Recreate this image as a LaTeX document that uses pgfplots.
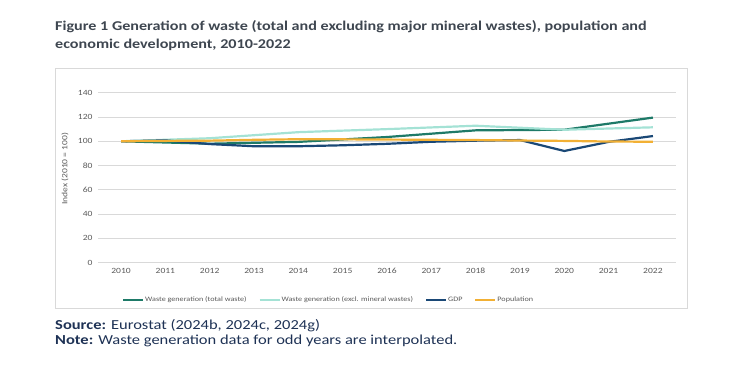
\documentclass[border=0pt]{standalone}
\usepackage{pgfplots}
\pgfplotsset{compat=1.18}
\usepackage{fontspec}
\setmainfont{Carlito}[FakeStretch=1.2]
\definecolor{ctotal}{RGB}{30,122,104}
\definecolor{cexcl}{RGB}{164,226,213}
\definecolor{cgdp}{RGB}{26,72,118}
\definecolor{cpop}{RGB}{242,176,52}
\definecolor{cgrid}{RGB}{217,217,217}
\definecolor{ctick}{RGB}{89,89,89}
\definecolor{ctitle}{RGB}{62,70,80}
\definecolor{cnote}{RGB}{30,50,85}
\begin{document}
\begin{tikzpicture}[x=1bp,y=1bp]
\path[use as bounding box] (0,0) rectangle (738,369);
\node[anchor=base west,inner sep=0,text=ctitle,font=\fontsize{13.5}{16}\selectfont\bfseries] at (55,338.5) {Figure 1 Generation of waste (total and excluding major mineral wastes), population and};
\node[anchor=base west,inner sep=0,text=ctitle,font=\fontsize{13.5}{16}\selectfont\bfseries] at (55,320.5) {economic development, 2010-2022};
\draw[cgrid,line width=0.8bp] (55,61) rectangle (687,301);
\node[anchor=base west,inner sep=0,text=cnote,font=\fontsize{13.8}{16}\selectfont] at (55,40) {\textbf{Source:} Eurostat (2024b, 2024c, 2024g)};
\node[anchor=base west,inner sep=0,text=cnote,font=\fontsize{13.8}{16}\selectfont] at (55,24.5) {\textbf{Note:} Waste generation data for odd years are interpolated.};
\begin{axis}[
  at={(98bp,106.3bp)}, anchor=south west,
  scale only axis, width=578bp, height=170bp,
  xmin=2009.48, xmax=2022.52, ymin=0, ymax=140,
  xtick={2010,...,2022}, ytick={0,20,...,140},
  /pgf/number format/assume math mode=true,
  xticklabel style={/pgf/number format/1000 sep={}},
  ymajorgrids, grid style={cgrid,line width=0.8bp},
  axis line style={draw=none}, tick style={draw=none},
  ticklabel style={font=\fontsize{8}{9}\selectfont, text=ctick},
  xticklabel style={yshift=-2bp},
  yticklabel style={xshift=-2bp},
  ylabel={Index (2010 = 100)},
  ylabel style={font=\fontsize{8}{9}\selectfont, text=ctick, at={(axis description cs:-0.057,0.552)}, anchor=center},
  legend columns=4,
  legend style={draw=none, fill=none, at={(axis description cs:0.0415,-0.219)}, anchor=west, font=\fontsize{6.8}{9}\selectfont, text=ctick, inner sep=0pt,
    nodes={inner xsep=1bp},
    /tikz/every even column/.append style={column sep=11bp}},
  legend image code/.code={\draw[#1, line width=2bp] (0,0) -- (20bp,0);},
  every axis plot/.append style={line width=2.2bp},
]
\addplot[ctotal] coordinates {(2010,100) (2011,99) (2012,98) (2013,98.75) (2014,99.5) (2015,101.5) (2016,103.5) (2017,106.25) (2018,109) (2019,109.25) (2020,109.5) (2021,114.5) (2022,119.5)};
\addlegendentry{Waste generation (total waste)}
\addplot[cexcl] coordinates {(2010,100) (2011,101.25) (2012,102.5) (2013,105) (2014,107.5) (2015,108.75) (2016,110) (2017,111.4) (2018,112.8) (2019,111.15) (2020,109.5) (2021,110.5) (2022,111.5)};
\addlegendentry{Waste generation (excl. mineral wastes)}
\addplot[cgdp] coordinates {(2010,100) (2011,100.7) (2012,97.7) (2013,95.9) (2014,95.9) (2015,96.7) (2016,97.9) (2017,99.6) (2018,100.5) (2019,101) (2020,92) (2021,99.5) (2022,104.3)};
\addlegendentry{GDP}
\addplot[cpop] coordinates {(2010,100) (2011,100.3) (2012,100.5) (2013,101.2) (2014,101.7) (2015,101.6) (2016,101.4) (2017,101.2) (2018,101) (2019,100.6) (2020,100.3) (2021,99.8) (2022,99.6)};
\addlegendentry{Population}
\end{axis}
\end{tikzpicture}
\end{document}
